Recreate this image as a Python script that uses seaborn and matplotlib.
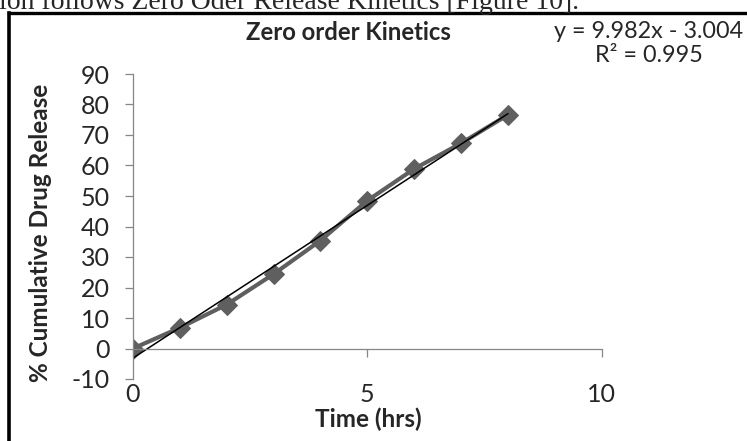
import numpy as np
import matplotlib
matplotlib.use("Agg")
import matplotlib.pyplot as plt
from matplotlib.lines import Line2D
import seaborn as sns

# data
time_hrs = [0, 1, 2, 3, 4, 5, 6, 7, 8]
release = [0.0, 6.8, 14.4, 24.4, 35.4, 48.5, 58.9, 67.3, 76.6]
y_ticks = [-10, 0, 10, 20, 30, 40, 50, 60, 70, 80, 90]
x_ticks = [0, 5, 10]
eq_text = "y = 9.982x - 3.004"
r2_text = "R\u00b2 = 0.995"

sns.set_style("white")
plt.rcParams['font.family'] = ['Lato', 'DejaVu Sans']
plt.rcParams['axes.unicode_minus'] = False

W, H = 747, 441
fig = plt.figure(figsize=(W / 100, H / 100), dpi=100)
ax = fig.add_axes([133 / W, (H - 379) / H, 468.7 / W, 305 / H])

grey = '#868686'
sns.lineplot(x=time_hrs, y=release, ax=ax, color='#5f5f5f', linewidth=3,
             marker='D', markersize=10, markeredgecolor='#5f5f5f')
sns.regplot(x=time_hrs, y=release, ax=ax, scatter=False, ci=None,
            color='black', line_kws={'linewidth': 1.1})

ax.set_xlim(0, 10)
ax.set_ylim(-10, 90)
ax.set_xticks(x_ticks)
ax.set_yticks(y_ticks)
for s in ['top', 'right']:
    ax.spines[s].set_visible(False)
ax.spines['bottom'].set_position(('data', 0))
for s in ['left', 'bottom']:
    ax.spines[s].set_color(grey)
    ax.spines[s].set_linewidth(0.9)
ax.tick_params(axis='y', direction='out', length=5.5, width=0.9, color=grey,
               labelsize=18, pad=11, left=True)
ax.tick_params(axis='x', direction='out', length=5.5, width=0.9, color=grey,
               labelsize=18, pad=19.5, bottom=True)

ax.set_xlabel('Time (hrs)', fontsize=17.5, fontweight='bold')
ax.set_ylabel('% Cumulative Drug Release', fontsize=17.5, fontweight='bold')
ax.xaxis.set_label_coords((368 - 133) / 468.7, (379 - 408) / 305)
ax.yaxis.set_label_coords((40 - 133) / 468.7, (379 - 233) / 305)
ax.xaxis.label.set_va('top')
ax.yaxis.label.set_va('center')

fig.text(348.5 / W, (H - 40) / H, 'Zero order Kinetics', fontsize=17.2,
         fontweight='bold', ha='center', va='baseline')
fig.text(649 / W, (H - 38) / H, eq_text, fontsize=16.8, ha='center', va='baseline')
fig.text(649 / W, (H - 62) / H, r2_text, fontsize=16.8, ha='center', va='baseline')

# page text above the chart frame (cut by the top edge, as in the source)
fig.text(-1 / W, (H - 9) / H, 'ion follows Zero Oder Release Kinetics [Figure 10].',
         fontsize=20, family='Liberation Serif', ha='left', va='baseline')

# chart frame (continues past the right and bottom edges)
fig.add_artist(Line2D([9 / W, 9 / W], [(H - 13) / H, -0.1], transform=fig.transFigure,
                      color='black', linewidth=2.6, solid_capstyle='projecting'))
fig.add_artist(Line2D([9 / W, 1.1], [(H - 13) / H, (H - 13) / H], transform=fig.transFigure,
                      color='black', linewidth=2.4, solid_capstyle='projecting'))

fig.savefig('out.png', dpi=100)
